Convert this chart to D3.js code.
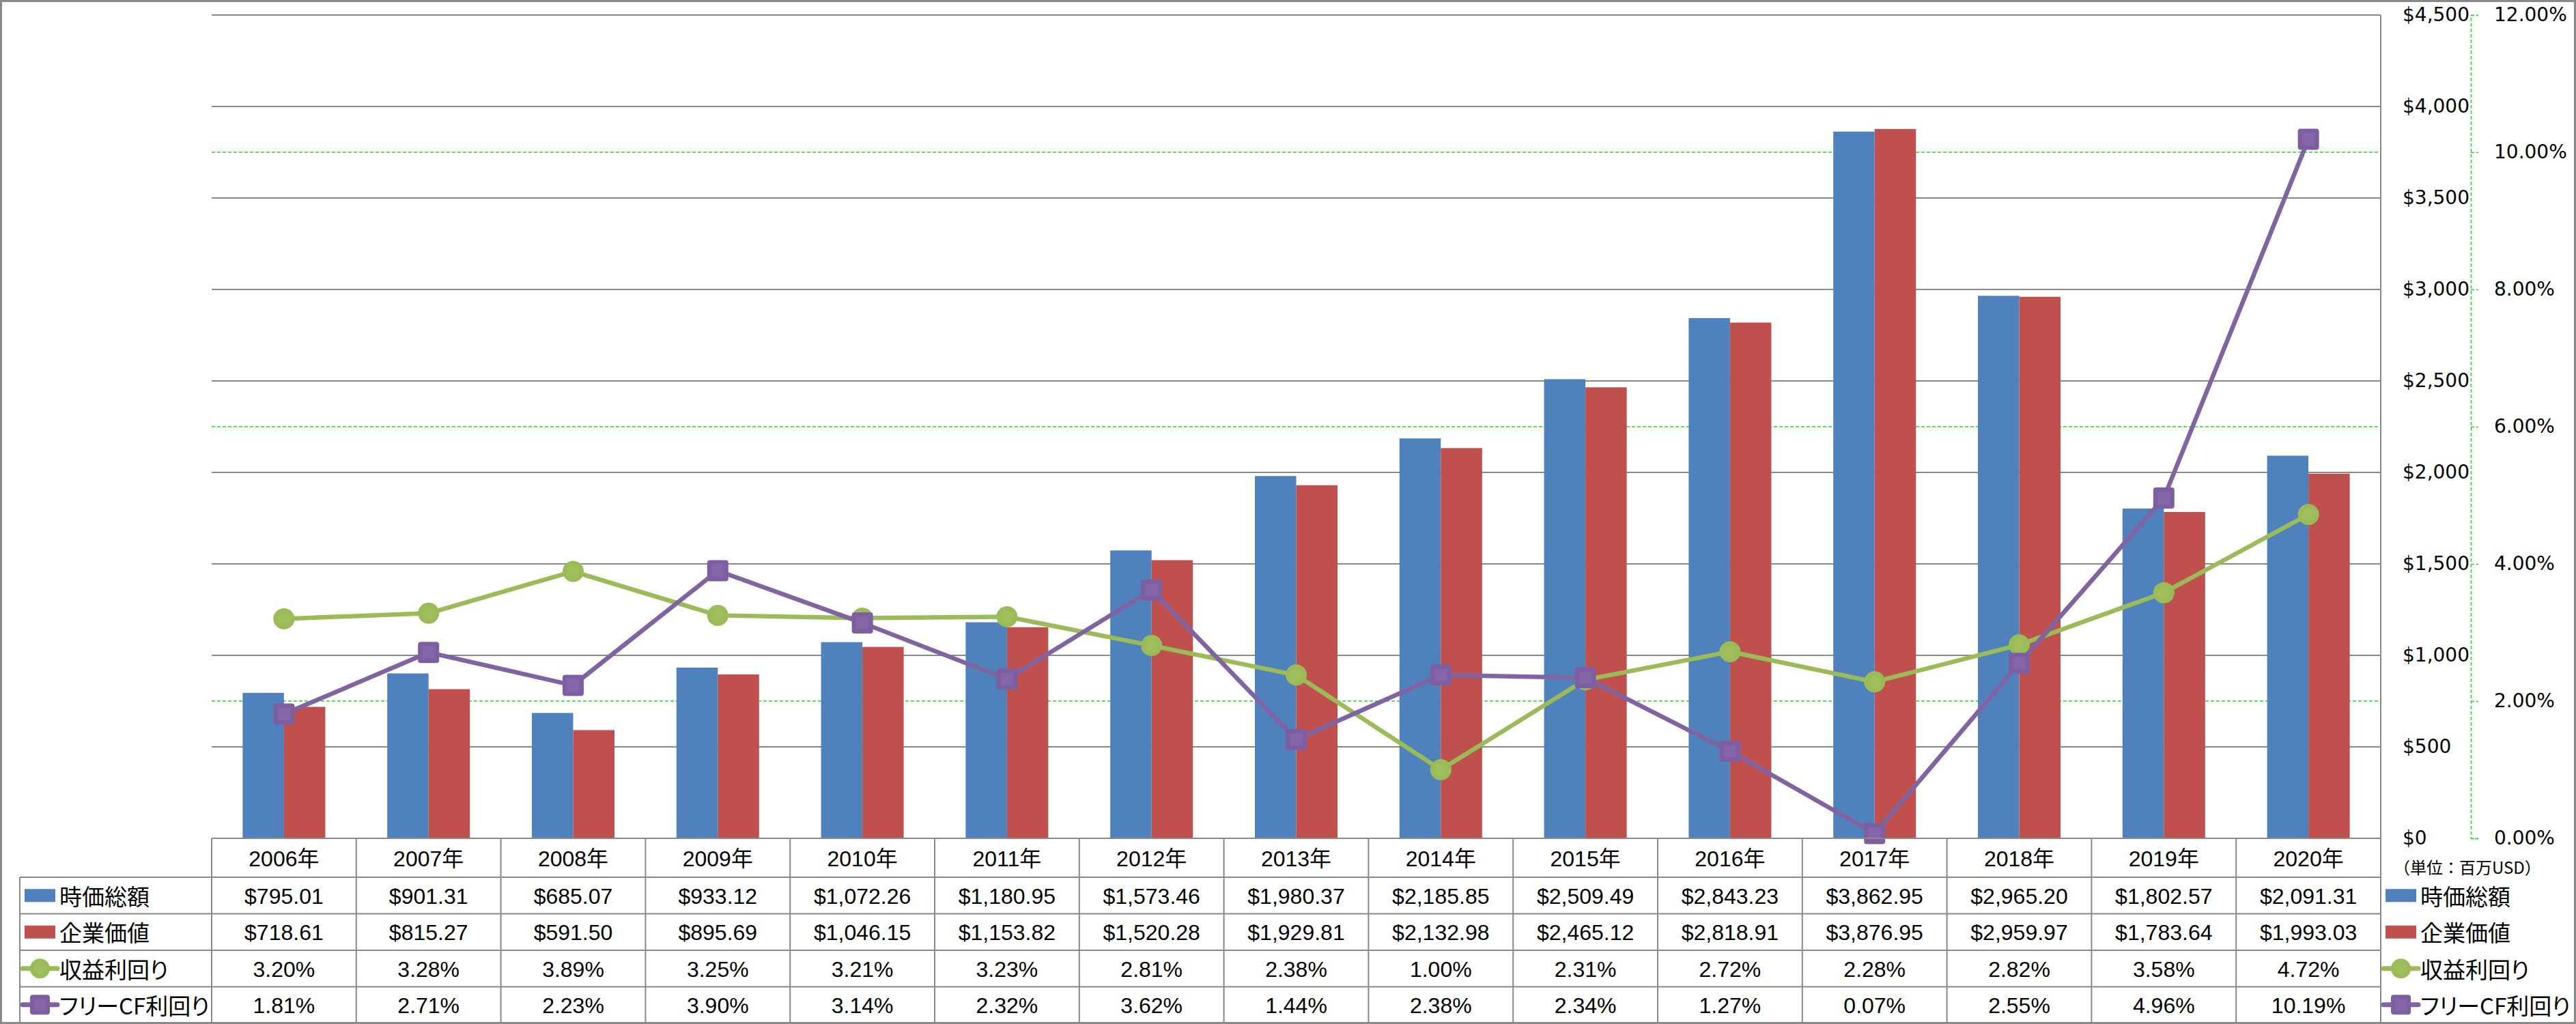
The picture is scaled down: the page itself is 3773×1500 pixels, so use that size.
<!DOCTYPE html>
<html>
<head>
<meta charset="utf-8">
<script src="https://cdn.jsdelivr.net/npm/d3@7"></script>
<style>
  html, body { margin: 0; padding: 0; background: #fff; }
  svg { display: block; }
  .palt { font-feature-settings: "palt" 1; }
</style>
</head>
<body>
<script>
// ---------- DATA ----------
const years = ["2006年","2007年","2008年","2009年","2010年","2011年","2012年","2013年","2014年","2015年","2016年","2017年","2018年","2019年","2020年"];
const marketCap = [795.01, 901.31, 685.07, 933.12, 1072.26, 1180.95, 1573.46, 1980.37, 2185.85, 2509.49, 2843.23, 3862.95, 2965.20, 1802.57, 2091.31];
const enterpriseValue = [718.61, 815.27, 591.50, 895.69, 1046.15, 1153.82, 1520.28, 1929.81, 2132.98, 2465.12, 2818.91, 3876.95, 2959.97, 1783.64, 1993.03];
const earningsYield = [3.20, 3.28, 3.89, 3.25, 3.21, 3.23, 2.81, 2.38, 1.00, 2.31, 2.72, 2.28, 2.82, 3.58, 4.72];
const fcfYield = [1.81, 2.71, 2.23, 3.90, 3.14, 2.32, 3.62, 1.44, 2.38, 2.34, 1.27, 0.07, 2.55, 4.96, 10.19];
const seriesNames = ["時価総額", "企業価値", "収益利回り", "フリーCF利回り"];
const leftTicks = [0, 500, 1000, 1500, 2000, 2500, 3000, 3500, 4000, 4500];
const rightTicks = [0, 2, 4, 6, 8, 10, 12];
const unitLabel = "（単位：百万USD）";

// ---------- STYLE ----------
const W = 3773, H = 1500;
const C_BLUE = "#4F81BD", C_RED = "#C0504D", C_GREEN = "#9BBB59", C_PURPLE = "#8064A2";
const GRID = "#898989", LIME = "#1EDC1E";
const NUM_FONT = "'Liberation Sans', 'Noto Sans CJK JP', sans-serif";
const JP_FONT = "'Noto Sans CJK JP', sans-serif";
const AX_FONT = "'DejaVu Sans', sans-serif";

const plotL = 310, plotR = 3487, plotT = 22, plotB = 1228;
const tableL = 29;
const rowEdges = [1228, 1285, 1338.5, 1392, 1445.5, 1498];

const svg = d3.select("body").append("svg").attr("width", W).attr("height", H);
svg.append("rect").attr("width", W).attr("height", H).attr("fill", "#fff");

const x = d3.scaleBand().domain(years).range([plotL, plotR]).padding(0);
const bw = x.bandwidth();
const barW = bw / 3.5;
const y = d3.scaleLinear().domain([0, 4500]).range([plotB, plotT]);
const y2 = d3.scaleLinear().domain([0, 12]).range([plotB, plotT]);
const sub = d3.scaleBand().domain([0, 1]).range([-barW, barW]).padding(0);

// green dashed secondary gridlines
svg.append("g").selectAll("line").data(rightTicks.filter(d => d > 0 && d < 12)).join("line")
  .attr("x1", plotL).attr("x2", plotR)
  .attr("y1", d => y2(d)).attr("y2", d => y2(d))
  .attr("stroke", LIME).attr("stroke-width", 1.5).attr("stroke-dasharray", "5,3");

// gray primary gridlines
svg.append("g").selectAll("line").data(leftTicks.filter(d => d > 0)).join("line")
  .attr("x1", plotL).attr("x2", plotR)
  .attr("y1", d => y(d)).attr("y2", d => y(d))
  .attr("stroke", GRID).attr("stroke-width", 2);

// bars
const barSeries = [marketCap, enterpriseValue];
const barColors = [C_BLUE, C_RED];
barSeries.forEach((vals, si) => {
  svg.append("g").selectAll("rect").data(vals).join("rect")
    .attr("x", (d, i) => x(years[i]) + bw / 2 + sub(si))
    .attr("width", sub.bandwidth())
    .attr("y", d => y(d))
    .attr("height", d => plotB - y(d))
    .attr("fill", barColors[si]);
});

// lines
const line = d3.line().x((d, i) => x(years[i]) + bw / 2).y(d => y2(d));
function circleMarker(g, cx, cy, r) {
  g.append("circle").attr("cx", cx).attr("cy", cy).attr("r", r).attr("fill", C_GREEN);
  g.append("circle").attr("cx", cx).attr("cy", cy).attr("r", r * 0.6).attr("fill", "#9fbf5d");
}
function squareMarker(g, cx, cy, s) {
  g.append("rect").attr("x", cx - s / 2).attr("y", cy - s / 2).attr("width", s).attr("height", s)
    .attr("rx", 4).attr("fill", "#7d5fa1");
  g.append("rect").attr("x", cx - s * 0.29).attr("y", cy - s * 0.29).attr("width", s * 0.58).attr("height", s * 0.58)
    .attr("fill", "#8566a8");
}
const gE = svg.append("g");
gE.append("path").datum(earningsYield).attr("d", line).attr("fill", "none")
  .attr("stroke", C_GREEN).attr("stroke-width", 6.5).attr("stroke-linejoin", "round");
earningsYield.forEach((d, i) => circleMarker(gE, x(years[i]) + bw / 2, y2(d), 15.5));

const gF = svg.append("g");
gF.append("path").datum(fcfYield).attr("d", line).attr("fill", "none")
  .attr("stroke", C_PURPLE).attr("stroke-width", 6.5).attr("stroke-linejoin", "round");
fcfYield.forEach((d, i) => squareMarker(gF, x(years[i]) + bw / 2, y2(d), 31));

// plot right edge
svg.append("line").attr("x1", plotR).attr("x2", plotR).attr("y1", plotT).attr("y2", rowEdges[5])
  .attr("stroke", GRID).attr("stroke-width", 2);

// primary axis labels (on the right)
const axL = svg.append("g").attr("transform", `translate(3519,0)`)
  .call(d3.axisRight(y).tickValues(leftTicks).tickFormat(d3.format("$,")).tickSize(0).tickPadding(0));
axL.select(".domain").remove();
axL.selectAll("text").attr("font-family", AX_FONT).attr("font-size", 28).attr("fill", "#000");

// secondary axis
const axR = svg.append("g").attr("transform", `translate(3619,0)`)
  .call(d3.axisRight(y2).tickValues(rightTicks).tickFormat(d => d.toFixed(2) + "%").tickSize(11).tickPadding(23));
axR.select(".domain").attr("stroke", LIME).attr("stroke-width", 1.5).attr("stroke-dasharray", "5,3");
axR.selectAll(".tick line").attr("stroke", LIME).attr("stroke-width", 1.5).attr("stroke-dasharray", "5,3");
axR.selectAll("text").attr("font-family", AX_FONT).attr("font-size", 28).attr("fill", "#000");

// unit label
svg.append("text").attr("x", 3506).attr("y", 1269).attr("dominant-baseline", "central")
  .attr("font-family", JP_FONT).attr("font-size", 24).attr("fill", "#000").text(unitLabel);

// ---------- DATA TABLE ----------
const tg = svg.append("g");
tg.append("line").attr("x1", plotL).attr("x2", plotR).attr("y1", rowEdges[0]).attr("y2", rowEdges[0])
  .attr("stroke", GRID).attr("stroke-width", 2);
rowEdges.slice(1).forEach(ry => {
  tg.append("line").attr("x1", tableL).attr("x2", plotR).attr("y1", ry).attr("y2", ry)
    .attr("stroke", GRID).attr("stroke-width", 2);
});
tg.append("line").attr("x1", tableL).attr("x2", tableL).attr("y1", rowEdges[1]).attr("y2", rowEdges[5])
  .attr("stroke", GRID).attr("stroke-width", 2);
years.forEach(yr => {
  tg.append("line").attr("x1", x(yr)).attr("x2", x(yr)).attr("y1", rowEdges[0]).attr("y2", rowEdges[5])
    .attr("stroke", GRID).attr("stroke-width", 2);
});

tg.selectAll("text.year").data(years).join("text").attr("class", "year")
  .attr("x", d => x(d) + bw / 2).attr("y", (rowEdges[0] + rowEdges[1]) / 2 + 1)
  .attr("text-anchor", "middle").attr("dominant-baseline", "central")
  .attr("font-family", NUM_FONT).attr("font-size", 32).attr("fill", "#000").text(d => d);

const fmtUSD = d3.format("$,.2f");
const fmtPct = d => d.toFixed(2) + "%";
const rowsData = [
  { vals: marketCap, fmt: fmtUSD },
  { vals: enterpriseValue, fmt: fmtUSD },
  { vals: earningsYield, fmt: fmtPct },
  { vals: fcfYield, fmt: fmtPct }
];
rowsData.forEach((r, ri) => {
  const cy = (rowEdges[ri + 1] + rowEdges[ri + 2]) / 2 + 1;
  tg.append("g").selectAll("text").data(r.vals).join("text")
    .attr("x", (d, i) => x(years[i]) + bw / 2).attr("y", cy)
    .attr("text-anchor", "middle").attr("dominant-baseline", "central")
    .attr("font-family", NUM_FONT).attr("font-size", 32).attr("fill", "#000")
    .text(d => r.fmt(d));
});

function legendKey(g, kx, cy, si) {
  if (si < 2) {
    g.append("rect").attr("x", kx).attr("y", cy - 9.5).attr("width", 45).attr("height", 19)
      .attr("fill", barColors[si]);
  } else {
    const col = si === 2 ? C_GREEN : C_PURPLE;
    g.append("line").attr("x1", kx - 3).attr("x2", kx + 48).attr("y1", cy).attr("y2", cy)
      .attr("stroke", col).attr("stroke-width", 7).attr("stroke-linecap", "round");
    if (si === 2) circleMarker(g, kx + 22.5, cy, 14.5);
    else squareMarker(g, kx + 22.5, cy, 29);
  }
}
seriesNames.forEach((name, si) => {
  const cy = (rowEdges[si + 1] + rowEdges[si + 2]) / 2;
  legendKey(tg, 36, cy, si);
  tg.append("text").attr("class", "palt").attr("x", 87).attr("y", cy).attr("dominant-baseline", "central")
    .attr("font-family", JP_FONT).attr("font-size", 33).attr("fill", "#000").text(name);
  legendKey(svg, 3494, cy, si);
  svg.append("text").attr("class", "palt").attr("x", 3545).attr("y", cy).attr("dominant-baseline", "central")
    .attr("font-family", JP_FONT).attr("font-size", 33).attr("fill", "#000").text(name);
});

// outer border
svg.append("rect").attr("x", 1.5).attr("y", 1.5).attr("width", W - 3).attr("height", H - 3)
  .attr("fill", "none").attr("stroke", GRID).attr("stroke-width", 3);
</script>
</body>
</html>
